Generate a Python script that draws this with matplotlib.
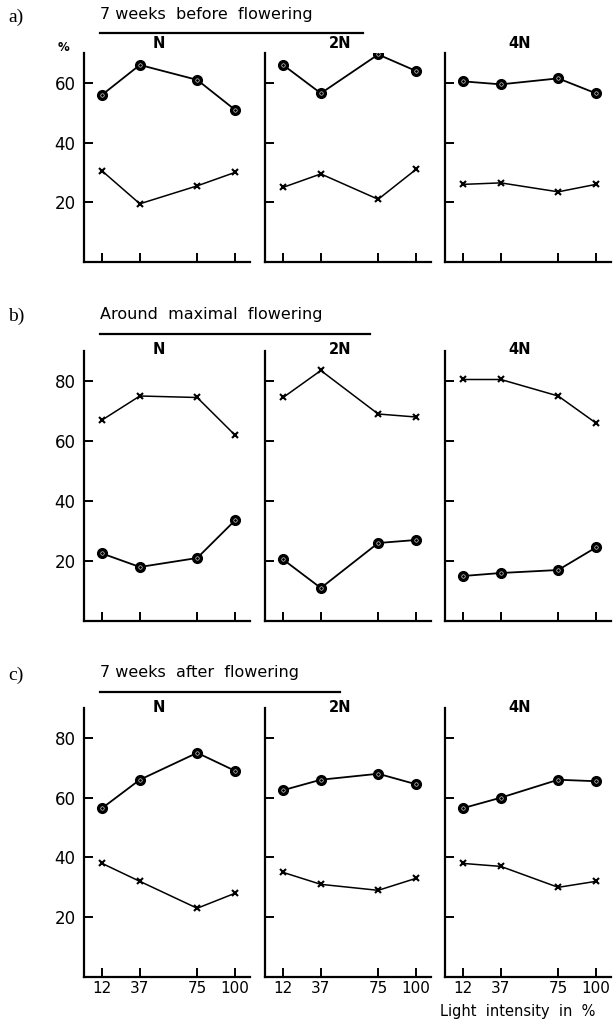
import matplotlib
matplotlib.use("Agg")
from matplotlib import pyplot as plt
from matplotlib.lines import Line2D

plt.rcParams['font.family'] = ['DejaVu Sans']

W, H = 613, 1021

# data, light intensity in %
light = [12, 37, 75, 100]
ploidy = ['N', '2N', '4N']

# a) 7 weeks before flowering
a_dot_N = [56, 66, 61, 51]
a_dot_2N = [66, 56.5, 69.5, 64]
a_dot_4N = [60.5, 59.5, 61.5, 56.5]
a_x_N = [30.5, 19.5, 25.5, 30]
a_x_2N = [25, 29.5, 21, 31]
a_x_4N = [26, 26.5, 23.5, 26]

# b) around maximal flowering
b_dot_N = [22.5, 18, 21, 33.5]
b_dot_2N = [20.5, 11, 26, 27]
b_dot_4N = [15, 16, 17, 24.5]
b_x_N = [67, 75, 74.5, 62]
b_x_2N = [74.5, 83.5, 69, 68]
b_x_4N = [80.5, 80.5, 75, 66]

# c) 7 weeks after flowering
c_dot_N = [56.5, 66, 75, 69]
c_dot_2N = [62.5, 66, 68, 64.5]
c_dot_4N = [56.5, 60, 66, 65.5]
c_x_N = [38, 32, 23, 28]
c_x_2N = [35, 31, 29, 33]
c_x_4N = [38, 37, 30, 32]

rows = [
    dict(tag='a)', title='7 weeks  before  flowering', ymax=70, yt=[20, 40, 60],
         dots=[a_dot_N, a_dot_2N, a_dot_4N], xs=[a_x_N, a_x_2N, a_x_4N],
         top=53, bot=262, ttl_y=15, line_y=33, line_x1=363, lab_y=43),
    dict(tag='b)', title='Around  maximal  flowering', ymax=90, yt=[20, 40, 60, 80],
         dots=[b_dot_N, b_dot_2N, b_dot_4N], xs=[b_x_N, b_x_2N, b_x_4N],
         top=351, bot=621, ttl_y=314, line_y=334, line_x1=370, lab_y=350),
    dict(tag='c)', title='7 weeks  after  flowering', ymax=90, yt=[20, 40, 60, 80],
         dots=[c_dot_N, c_dot_2N, c_dot_4N], xs=[c_x_N, c_x_2N, c_x_4N],
         top=708, bot=977, ttl_y=673, line_y=692, line_x1=340, lab_y=707),
]

lefts = [84, 265, 445]
pw = 166

fig = plt.figure(figsize=(W / 100, H / 100), dpi=100)


def fx(x):
    return x / W


def fy(y):
    return 1 - y / H


for r, row in enumerate(rows):
    for i in range(3):
        ax = fig.add_axes([fx(lefts[i]), fy(row['bot']), pw / W, (row['bot'] - row['top']) / H])
        ax.plot(light, row['dots'][i], color='black', lw=1.3, marker='o', ms=7, mfc='black', mec='black')
        ax.plot(light, row['dots'][i], ls='none', marker='o', ms=2.5, mfc='none', mec='white', mew=0.4)
        ax.plot(light, row['xs'][i], color='black', lw=1.1, marker='x', ms=5, mew=1.5)
        ax.set_xlim(0, 110)
        ax.set_ylim(0, row['ymax'])
        for s in ['top', 'right']:
            ax.spines[s].set_visible(False)
        for s in ['left', 'bottom']:
            ax.spines[s].set_linewidth(1.6)
        ax.set_yticks(row['yt'])
        ax.set_xticks(light)
        ax.tick_params(direction='in', length=6.5, width=1.4, labelsize=12, pad=6)
        ax.tick_params(axis='x', labelsize=11, pad=3)
        if i > 0:
            ax.set_yticklabels([])
        if r < 2:
            ax.set_xticklabels([])
        fig.text(fx(lefts[i] + 0.45 * pw), fy(row['lab_y']), ploidy[i],
                 ha='center', va='center', fontsize=10.5, fontweight='bold')

    fig.text(fx(8), fy(row['ttl_y'] + 2), row['tag'], ha='left', va='center',
             fontsize=14, family='Liberation Serif')
    fig.text(fx(100), fy(row['ttl_y']), row['title'], ha='left', va='center', fontsize=11.5)
    fig.add_artist(Line2D([fx(100), fx(row['line_x1'])], [fy(row['line_y'])] * 2,
                          color='black', lw=1.6))

fig.text(fx(63), fy(47), '%', ha='center', va='center', fontsize=8.5, fontweight='bold')
fig.text(fx(595), fy(1011), 'Light  intensity  in  %', ha='right', va='center', fontsize=10.5)

fig.savefig('out.png', dpi=100)
